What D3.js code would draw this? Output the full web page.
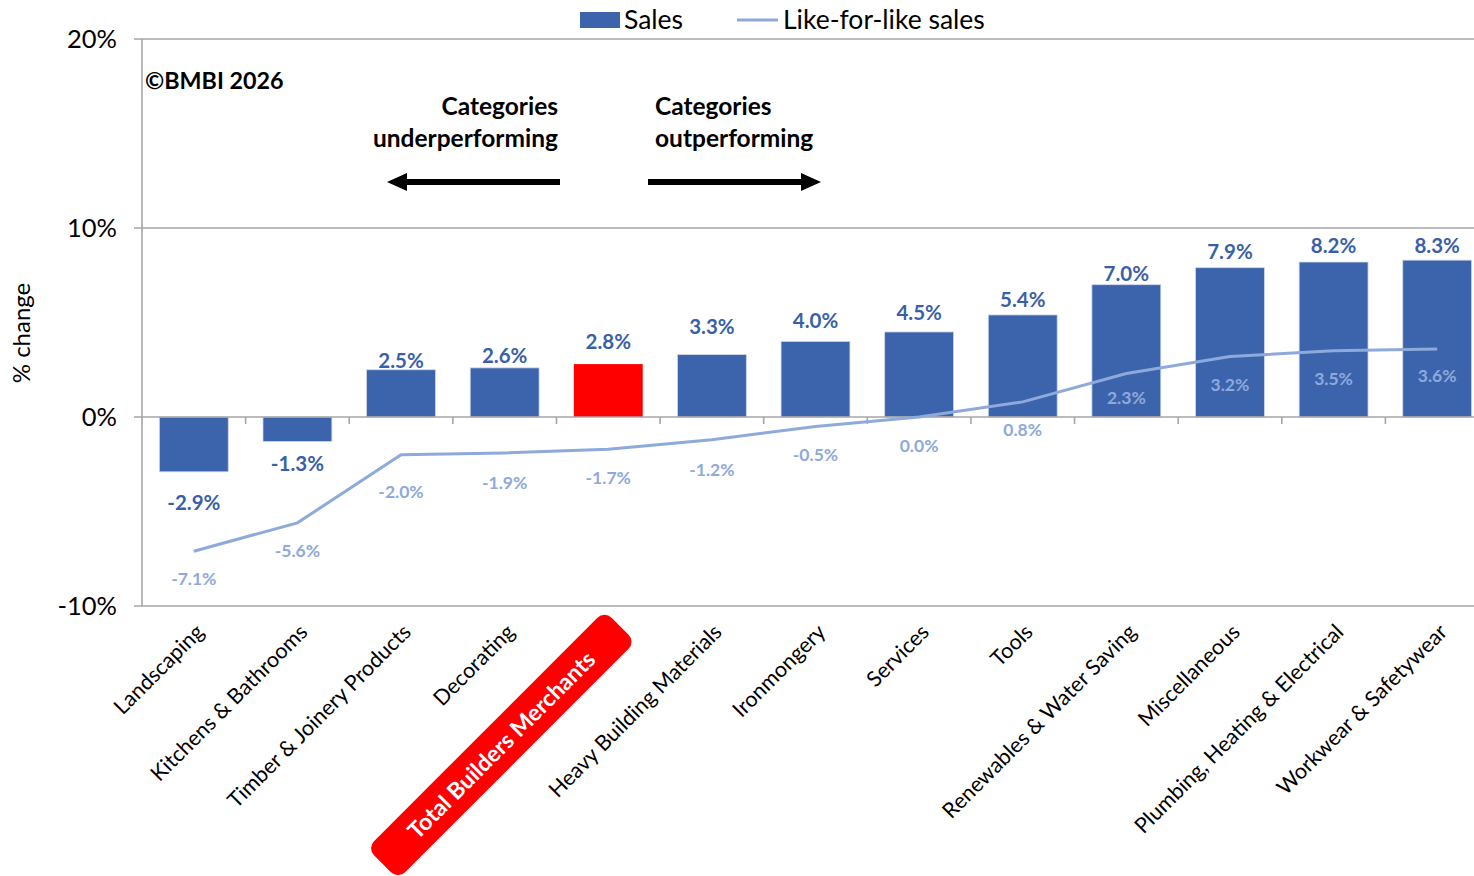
<!DOCTYPE html>
<html>
<head>
<meta charset="utf-8">
<script src="https://cdn.jsdelivr.net/npm/d3@7"></script>
<style>
  html, body { margin: 0; padding: 0; background: #fff; overflow: hidden; }
  svg { display: block; font-family: Lato, "Open Sans", sans-serif; }
</style>
</head>
<body>
<svg id="chart" width="1474" height="876"></svg>
<script>
// Categories, ordered by sales growth
const categories = [
  "Landscaping", "Kitchens & Bathrooms", "Timber & Joinery Products", "Decorating",
  "Total Builders Merchants", "Heavy Building Materials", "Ironmongery", "Services",
  "Tools", "Renewables & Water Saving", "Miscellaneous", "Plumbing, Heating & Electrical",
  "Workwear & Safetywear"
];
// Year-on-year % change in sales
const sales = [-2.9, -1.3, 2.5, 2.6, 2.8, 3.3, 4.0, 4.5, 5.4, 7.0, 7.9, 8.2, 8.3];
// Year-on-year % change in like-for-like sales
const lflSales = [-7.1, -5.6, -2.0, -1.9, -1.7, -1.2, -0.5, 0.0, 0.8, 2.3, 3.2, 3.5, 3.6];
const yTicks = [-10, 0, 10, 20];
const totalCategory = "Total Builders Merchants";

// Hand-placed nudges (px) for the sales value labels, away from the bar end
const salesLabelNudge = [2, -7, -3, 0, 10, 16, 8, 7, 3, -1, 4, 4, 2];
// Hand-placed nudges (px) for the like-for-like labels, below the line
const lflLabelNudge = [0, 0, 9, 2, 1, 2, 1, 1, 0, -4, 0, 0, -1];

const barColor = "#3C64AC";
const lineColor = "#8EA9DB";
const gridColor = "#A6A6A6";

const svg = d3.select("#chart");
const plot = { left: 142, right: 1489, top: 39, bottom: 606 };

const x = d3.scaleBand().domain(categories).range([plot.left, plot.right]).paddingInner(0.335).paddingOuter(0.1675);
const xb = d3.scaleBand().domain(categories).range([plot.left, plot.right]);
const y = d3.scaleLinear().domain([-10, 20]).range([plot.bottom, plot.top]);
const cx = d => xb(d) + xb.bandwidth() / 2;

// Horizontal gridlines
svg.append("g").selectAll("line").data(yTicks.filter(t => t !== 0)).join("line")
  .attr("x1", plot.left - 8).attr("x2", plot.right)
  .attr("y1", d => y(d)).attr("y2", d => y(d))
  .attr("stroke", gridColor).attr("stroke-width", 1.6);

// Y axis line
svg.append("line")
  .attr("x1", plot.left).attr("x2", plot.left)
  .attr("y1", y(20)).attr("y2", y(-10))
  .attr("stroke", gridColor).attr("stroke-width", 1.6);

// Y tick labels
svg.append("g").selectAll("text").data(yTicks).join("text")
  .attr("x", 117).attr("y", d => y(d)).attr("dy", "0.35em")
  .attr("text-anchor", "end").attr("font-size", 25.5).attr("fill", "#000")
  .text(d => d + "%");

// Y axis title
svg.append("text")
  .attr("transform", `translate(30,${333}) rotate(-90)`)
  .attr("text-anchor", "middle").attr("font-size", 24).attr("fill", "#000")
  .text("% change");

// Bars
svg.append("g").selectAll("rect").data(categories).join("rect")
  .attr("x", d => x(d))
  .attr("width", x.bandwidth())
  .attr("y", (d, i) => y(Math.max(0, sales[i])))
  .attr("height", (d, i) => Math.abs(y(sales[i]) - y(0)))
  .attr("fill", d => d === totalCategory ? "#FF0000" : barColor)
  .attr("stroke", d => d === totalCategory ? "none" : "#d0d8e8")
  .attr("stroke-width", 0.8);

// Zero line with category tick marks
svg.append("line")
  .attr("x1", plot.left - 8).attr("x2", plot.right)
  .attr("y1", y(0)).attr("y2", y(0))
  .attr("stroke", gridColor).attr("stroke-width", 1.6);
svg.append("g").selectAll("line").data(categories.slice(1)).join("line")
  .attr("x1", d => xb(d)).attr("x2", d => xb(d))
  .attr("y1", y(0)).attr("y2", y(0) + 7)
  .attr("stroke", gridColor).attr("stroke-width", 1.6);

// Like-for-like line
const line = d3.line()
  .x((d, i) => cx(categories[i]))
  .y(d => y(d));
svg.append("path").datum(lflSales)
  .attr("d", line).attr("fill", "none")
  .attr("stroke", lineColor).attr("stroke-width", 3);

// Sales value labels
svg.append("g").selectAll("text").data(categories).join("text")
  .attr("x", d => cx(d))
  .attr("y", (d, i) => sales[i] >= 0
    ? y(sales[i]) - 5 - salesLabelNudge[i]
    : y(sales[i]) + 36 + salesLabelNudge[i])
  .attr("text-anchor", "middle").attr("font-size", 20.5).attr("font-weight", 700)
  .attr("fill", "#3A5FA8")
  .text((d, i) => sales[i].toFixed(1) + "%");

// Like-for-like value labels
svg.append("g").selectAll("text").data(categories).join("text")
  .attr("x", d => cx(d))
  .attr("y", (d, i) => y(lflSales[i]) + 34 + lflLabelNudge[i])
  .attr("text-anchor", "middle").attr("font-size", 17.5).attr("font-weight", 700)
  .attr("fill", lineColor)
  .text((d, i) => lflSales[i].toFixed(1) + "%");

// Category labels
const catG = svg.append("g");
categories.forEach(c => {
  if (c === totalCategory) {
    // Highlighted total: white text on a rotated red pill
    const g = catG.append("g").attr("transform", `translate(${cx(c) - 107},${y(-10) + 139}) rotate(-45)`);
    g.append("rect")
      .attr("x", -168).attr("y", -22)
      .attr("width", 336).attr("height", 44)
      .attr("rx", 10).attr("fill", "#FF0000");
    g.append("text")
      .attr("text-anchor", "middle").attr("dy", "0.36em")
      .attr("font-size", 23).attr("font-weight", 700).attr("fill", "#fff")
      .text(c);
  } else {
    catG.append("text")
      .attr("transform", `translate(${cx(c) + 6},${y(-10) + 22}) rotate(-45)`)
      .attr("text-anchor", "end").attr("dy", "0.35em")
      .attr("font-size", 21.5).attr("fill", "#000")
      .text(c);
  }
});

// Legend
const legend = svg.append("g");
legend.append("rect").attr("x", 580).attr("y", 12).attr("width", 40).attr("height", 16).attr("fill", barColor);
legend.append("text").attr("x", 624).attr("y", 20).attr("dy", "0.35em").attr("font-size", 26.5).text("Sales");
legend.append("line").attr("x1", 737).attr("x2", 778).attr("y1", 20).attr("y2", 20)
  .attr("stroke", lineColor).attr("stroke-width", 3);
legend.append("text").attr("x", 783).attr("y", 20).attr("dy", "0.35em").attr("font-size", 26.5).text("Like-for-like sales");

// Copyright
svg.append("text").attr("x", 145).attr("y", 89).attr("font-size", 23.3).attr("font-weight", 700).text("©BMBI 2026");

// Performance annotations
const under = svg.append("text").attr("text-anchor", "end").attr("font-size", 24.5).attr("font-weight", 700);
under.append("tspan").attr("x", 558).attr("y", 115).text("Categories");
under.append("tspan").attr("x", 558).attr("y", 147).text("underperforming");
const over = svg.append("text").attr("text-anchor", "start").attr("font-size", 24.5).attr("font-weight", 700);
over.append("tspan").attr("x", 655).attr("y", 115).text("Categories");
over.append("tspan").attr("x", 655).attr("y", 147).text("outperforming");

// Arrows
const arrow = (x1, x2, yy) => {
  const dir = Math.sign(x2 - x1);
  svg.append("line").attr("x1", x1).attr("x2", x2 - dir * 18).attr("y1", yy).attr("y2", yy)
    .attr("stroke", "#000").attr("stroke-width", 6);
  svg.append("path")
    .attr("d", `M${x2},${yy} L${x2 - dir * 20},${yy - 9} L${x2 - dir * 20},${yy + 9} Z`)
    .attr("fill", "#000");
};
arrow(560, 387, 182);
arrow(648, 821, 182);
</script>
</body>
</html>
